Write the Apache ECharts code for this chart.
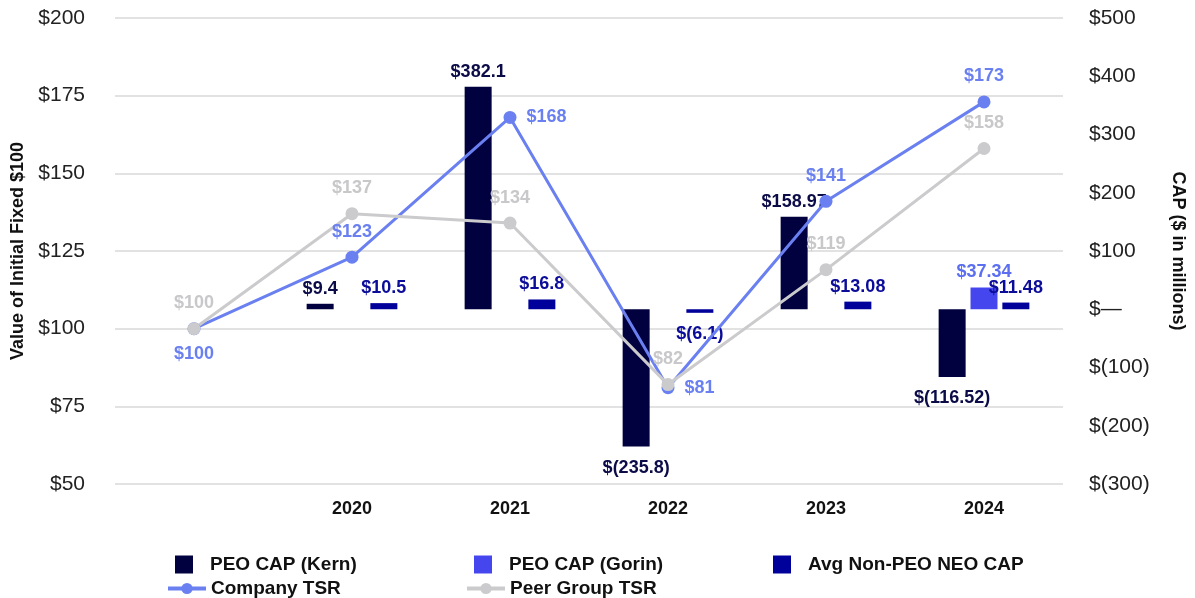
<!DOCTYPE html>
<html>
<head>
<meta charset="utf-8">
<script src="https://cdn.jsdelivr.net/npm/echarts@6/dist/echarts.min.js"></script>
<style>
  html, body { margin: 0; padding: 0; background: #fff; }
  #chart { width: 1195px; height: 598px; }
</style>
</head>
<body>
<div id="chart"></div>
<script>
// years (first point is the $100 base, no label)
const years = ["", "2020", "2021", "2022", "2023", "2024"];

// CAP, $ in millions (right axis)
const kernCap = [null, 9.4, 382.1, -235.8, 158.97, -116.52];
const gorinCap = [null, null, null, null, null, 37.34];
const neoCap = [null, 10.5, 16.8, -6.1, 13.08, 11.48];

// TSR, value of initial fixed $100 (left axis)
const companyTsr = [100, 123, 168, 81, 141, 173];
const peerTsr = [100, 137, 134, 82, 119, 158];

// where each TSR label sits
const companyLabelPos = ["bottom", "top", "right", "right", "top", "top"];
const peerLabelPos = ["top", "top", "top", "top", "top", "top"];

const FONT = "Liberation Sans, Arial, sans-serif";

const money = (v) => (v < 0 ? "$(" + Math.abs(v) + ")" : "$" + v);

function barData(arr) {
  return arr.map((v) =>
    v == null ? null : { value: v, label: { position: v < 0 ? "bottom" : "top", distance: v < 0 ? 12 : 6 } }
  );
}

function lineData(arr, pos) {
  return arr.map((v, i) => ({ value: v, label: { position: pos[i] } }));
}

const barLabel = (color) => ({
  show: true,
  color: color,
  fontFamily: FONT,
  fontWeight: "bold",
  fontSize: 18,
  formatter: (p) => money(p.value),
});

const lineLabel = (color) => ({
  show: true,
  color: color,
  fontFamily: FONT,
  fontWeight: "bold",
  fontSize: 18,
  distance: 10,
  formatter: (p) => "$" + p.value,
});

const legendText = { fontFamily: FONT, fontWeight: "bold", fontSize: 19, color: "#111" };
const boxText = Object.assign({ padding: [0, 0, 0, 12] }, legendText);

const option = {
  animation: false,
  grid: { left: 115, right: 131, top: 18, bottom: 114 },
  legend: [
    { data: ["PEO CAP (Kern)"], left: 170, top: 550, itemWidth: 18, itemHeight: 18, icon: "rect", textStyle: boxText },
    { data: ["PEO CAP (Gorin)"], left: 469, top: 550, itemWidth: 18, itemHeight: 18, icon: "rect", textStyle: boxText },
    { data: ["Avg Non-PEO NEO CAP"], left: 768, top: 550, itemWidth: 18, itemHeight: 18, icon: "rect", textStyle: boxText },
    { data: ["Company TSR"], left: 161, top: 574, itemWidth: 38, itemHeight: 14, lineStyle: { width: 4 }, textStyle: legendText },
    { data: ["Peer Group TSR"], left: 460, top: 574, itemWidth: 38, itemHeight: 14, lineStyle: { width: 4 }, textStyle: legendText },
  ],
  xAxis: {
    type: "category",
    data: years,
    axisLine: { show: false },
    axisTick: { show: false },
    axisLabel: { margin: 16, color: "#111", fontFamily: FONT, fontWeight: "bold", fontSize: 18 },
  },
  yAxis: [
    {
      type: "value",
      min: 50,
      max: 200,
      interval: 25,
      name: "Value of Initial Fixed $100",
      nameLocation: "middle",
      nameRotate: 90,
      nameGap: 88,
      nameTextStyle: { color: "#111", fontFamily: FONT, fontWeight: "bold", fontSize: 18 },
      axisLine: { show: false },
      axisTick: { show: false },
      axisLabel: { margin: 30, color: "#222", fontFamily: FONT, fontSize: 21, formatter: (v) => "$" + v },
      splitLine: { lineStyle: { color: "#e2e2e2", width: 2 } },
    },
    {
      type: "value",
      min: -300,
      max: 500,
      interval: 100,
      position: "right",
      name: "CAP ($ in millions)",
      nameLocation: "middle",
      nameRotate: -90,
      nameGap: 106,
      nameTextStyle: { color: "#111", fontFamily: FONT, fontWeight: "bold", fontSize: 18 },
      axisLine: { show: false },
      axisTick: { show: false },
      axisLabel: {
        margin: 26,
        color: "#222",
        fontFamily: FONT,
        fontSize: 21,
        formatter: (v) => (v === 0 ? "$\u2014" : money(v)),
      },
      splitLine: { show: false },
    },
  ],
  series: [
    {
      name: "PEO CAP (Kern)",
      type: "bar",
      yAxisIndex: 1,
      barWidth: 27,
      barGap: "18%",
      itemStyle: { color: "#01013f" },
      label: barLabel("#0b0b48"),
      data: barData(kernCap),
    },
    {
      name: "PEO CAP (Gorin)",
      type: "bar",
      yAxisIndex: 1,
      barWidth: 27,
      barGap: "18%",
      itemStyle: { color: "#4646ee" },
      label: barLabel("#5b6ff0"),
      data: barData(gorinCap),
    },
    {
      name: "Avg Non-PEO NEO CAP",
      type: "bar",
      yAxisIndex: 1,
      barWidth: 27,
      barGap: "18%",
      itemStyle: { color: "#00009a" },
      label: barLabel("#0c0c9a"),
      data: barData(neoCap),
    },
    {
      name: "Company TSR",
      type: "line",
      yAxisIndex: 0,
      symbol: "circle",
      symbolSize: 13,
      lineStyle: { color: "#6a80f0", width: 3 },
      itemStyle: { color: "#6a80f0" },
      label: lineLabel("#6a80f0"),
      data: lineData(companyTsr, companyLabelPos),
    },
    {
      name: "Peer Group TSR",
      type: "line",
      yAxisIndex: 0,
      symbol: "circle",
      symbolSize: 13,
      lineStyle: { color: "#cbcbcd", width: 3 },
      itemStyle: { color: "#cbcbcd" },
      label: lineLabel("#c8c8ca"),
      data: lineData(peerTsr, peerLabelPos),
    },
  ],
};

const myChart = echarts.init(document.getElementById("chart"));
myChart.setOption(option);
window.addEventListener("resize", () => myChart.resize());
</script>
</body>
</html>
